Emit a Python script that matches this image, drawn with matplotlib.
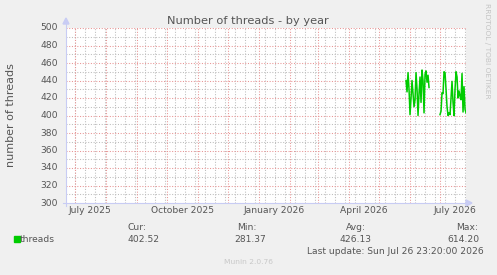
import matplotlib
matplotlib.use("Agg")
import matplotlib.dates as mdates
import matplotlib.pyplot as plt
import numpy as np
import pandas as pd

# ---------- data ---------- #
range_start = pd.Timestamp("2025-06-21 23:20")
range_end = pd.Timestamp("2026-07-26 23:20")

threads = [
    440, 427, 449, 430, 401, 420, 440, 425, 410, 418, 449, 430,
    400, 425, 444, 415, 452, 440, 403, 447, 451, 438, 446, 432,
    np.nan, np.nan, np.nan, np.nan, np.nan, np.nan, np.nan, np.nan, np.nan, np.nan,
    401, 405, 426, 425, 450, 449, 430, 410, 400, 403, 401, 420, 439,
    415, 400, 430, 450, 444, 420, 428, 422, 418, 448, 404, 433, 407, 403,
]
dates = pd.date_range("2026-05-28", periods=len(threads), freq="D")

y_ticks = list(range(300, 501, 20))
month_labels = [("2025-07-16", "July 2025"), ("2025-10-16", "October 2025"),
                ("2026-01-16", "January 2026"), ("2026-04-16", "April 2026"),
                ("2026-07-16", "July 2026")]

stats_names = ["Cur:", "Min:", "Avg:", "Max:"]
stats_values = ["402.52", "281.37", "426.13", "614.20"]

# ---------- figure ---------- #
W, H = 497, 275
fig = plt.figure(figsize=(W / 100, H / 100), dpi=100, facecolor="#F0F0F0")

def px(x, y):
    return x / W, 1 - y / H

TXT = "#555555"
FS = 6.6

ax = fig.add_axes([66 / W, 1 - 203 / H, 400 / W, 175 / H])
ax.set_facecolor("white")
ax.set_xlim(range_start, range_end)
ax.set_ylim(300, 500)
for s in ax.spines.values():
    s.set_visible(False)
ax.set_xticks([])
ax.set_yticks([])

dot = (0, (1, 1.6))
# grille mineure : tous les 10 jours / tous les 10
for d in pd.date_range(range_start.normalize(), range_end, freq="10D"):
    ax.axvline(d, color="#BDBDBD", lw=0.75, ls=dot, zorder=1)
for v in range(310, 500, 20):
    ax.axhline(v, color="#BDBDBD", lw=0.75, ls=dot, zorder=1)
# grille majeure : chaque mois / tous les 20
for d in pd.date_range("2025-07-01", range_end, freq="MS"):
    ax.axvline(d, color="#E89494", lw=0.75, ls=dot, zorder=2)
for v in y_ticks:
    ax.axhline(v, color="#E89494", lw=0.75, ls=dot, zorder=2)

ax.plot(dates, threads, color="#00CC00", lw=1.1, zorder=3)

# axes avec fleches
axis_col = "#C8CCF4"
fig.add_artist(plt.Line2D([66 / W, 66 / W], [1 - 206 / H, 1 - 22 / H], color=axis_col, lw=0.8))
fig.add_artist(plt.Line2D([63 / W, 467 / W], [1 - 203 / H, 1 - 203 / H], color=axis_col, lw=0.8))
fig.patches.append(plt.Polygon([px(63, 24), px(69, 24), px(66, 18)], closed=True,
                               transform=fig.transFigure, color=axis_col))
fig.patches.append(plt.Polygon([px(466, 200), px(466, 206), px(472, 203)], closed=True,
                               transform=fig.transFigure, color=axis_col))

for v in y_ticks:
    ax.text(-0.02, (v - 300) / 200, str(v), transform=ax.transAxes,
            ha="right", va="center", fontsize=FS, color=TXT)
for d, lab in month_labels:
    ax.text(pd.Timestamp(d), 291, lab, ha="center", va="center",
            fontsize=FS, color=TXT, clip_on=False)

fig.text(*px(248, 21), "Number of threads - by year", ha="center", va="center",
         fontsize=8.2, color=TXT)
fig.text(*px(11, 115), "number of threads", ha="center", va="center",
         rotation=90, fontsize=8, color=TXT)
fig.text(*px(487, 51), "RRDTOOL / TOBI OETIKER", ha="center", va="center",
         rotation=270, fontsize=5.4, color="#C4C4C4")

# legende
fig.patches.append(plt.Rectangle(px(14, 242), 6 / W, 6 / H, transform=fig.transFigure,
                                 color="#00CC00"))
fig.text(*px(20, 239.5), "threads", ha="left", va="center", fontsize=FS, color=TXT)

name_x = [128, 237, 346, 456]
value_x = [128, 234, 340, 447]
for name, nx, val, vx in zip(stats_names, name_x, stats_values, value_x):
    fig.text(*px(nx, 227), name, ha="left", va="center", fontsize=FS, color=TXT)
    fig.text(*px(vx, 239.5), val, ha="left", va="center", fontsize=FS, color=TXT)

fig.text(*px(307, 251.5), "Last update: Sun Jul 26 23:20:00 2026", ha="left", va="center",
         fontsize=FS, color=TXT)
fig.text(*px(248, 262), "Munin 2.0.76", ha="center", va="center",
         fontsize=5.4, color="#C8C8C8")

fig.savefig("out.png", dpi=100, facecolor=fig.get_facecolor())
